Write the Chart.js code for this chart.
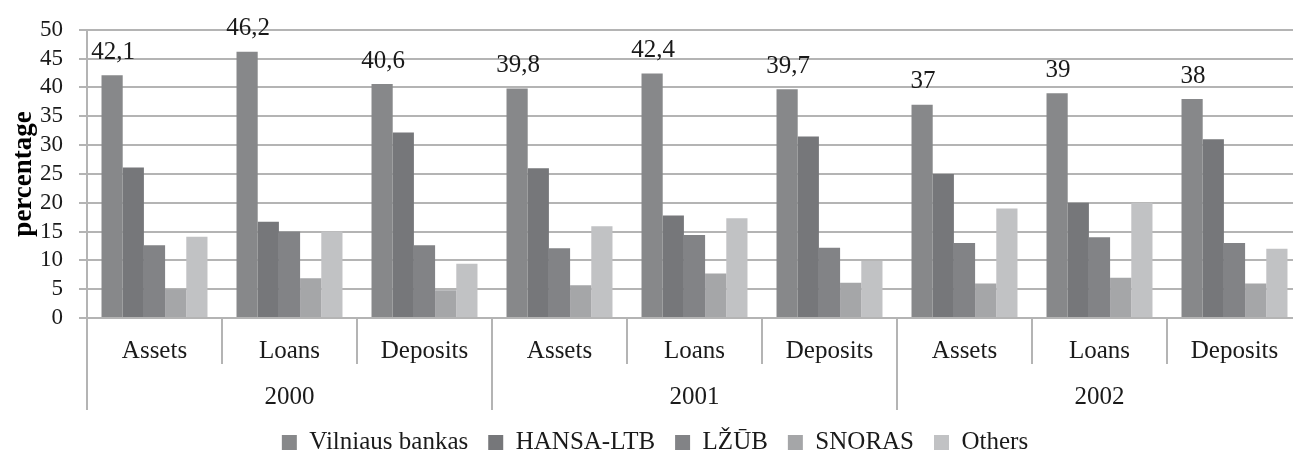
<!DOCTYPE html>
<html>
<head>
<meta charset="utf-8">
<script src="https://cdn.jsdelivr.net/npm/chart.js@4.4.1/dist/chart.umd.min.js"></script>
<style>
  html, body { margin: 0; padding: 0; background: #fff; overflow: hidden; }
  #wrap { width: 1310px; height: 455px; }
</style>
</head>
<body>
<div id="wrap"><canvas id="chart-banks"></canvas></div>
<script>
// categories (two level axis: indicator / year)
var indicators = ['Assets', 'Loans', 'Deposits', 'Assets', 'Loans', 'Deposits', 'Assets', 'Loans', 'Deposits'];
var years = ['2000', '2001', '2002'];

// market shares, %
var vilniausBankas = [42.1, 46.2, 40.6, 39.8, 42.4, 39.7, 37, 39, 38];
var hansaLtb = [26.1, 16.7, 32.2, 26, 17.8, 31.5, 25, 20, 31];
var lzub = [12.6, 15, 12.6, 12.1, 14.4, 12.2, 13, 14, 13];
var snoras = [5, 6.9, 4.8, 5.7, 7.7, 6.1, 6, 7, 6];
var others = [14.1, 15, 9.4, 15.9, 17.3, 9.9, 19, 20, 12];

var seriesNames = ['Vilniaus bankas', 'HANSA-LTB', 'LŽŪB', 'SNORAS', 'Others'];
var yTicks = [0, 5, 10, 15, 20, 25, 30, 35, 40, 45, 50];

var serif = '"Liberation Serif", "Times New Roman", serif';
var gridGrey = '#b4b4b4';

// value labels over the first series only
var topLabels = {
    id: 'topLabels',
    afterDatasetsDraw: function (chart) {
        var ctx = chart.ctx;
        var meta = chart.getDatasetMeta(0);
        ctx.save();
        ctx.font = '25px ' + serif;
        ctx.fillStyle = '#1a1a1a';
        ctx.textAlign = 'center';
        ctx.textBaseline = 'middle';
        meta.data.forEach(function (bar, i) {
            var txt = String(vilniausBankas[i]).replace('.', ',');
            ctx.fillText(txt, bar.x + 1, bar.y - 23);
        });
        ctx.restore();
    }
};

// vertical separators of the two level category axis
var separators = {
    id: 'separators',
    afterDraw: function (chart) {
        var x = chart.scales.x;
        var x2 = chart.scales.x2;
        var ctx = chart.ctx;
        var step = x.getPixelForValue(1) - x.getPixelForValue(0);
        var perYear = indicators.length / years.length;
        ctx.save();
        ctx.strokeStyle = gridGrey;
        ctx.lineWidth = 2;
        for (var i = 0; i <= indicators.length; i++) {
            var px = Math.round(x.getPixelForValue(0) - step / 2 + i * step);
            var bottom = (i % perYear === 0) ? x2.bottom : x.bottom - 1;
            ctx.beginPath();
            ctx.moveTo(px, chart.chartArea.bottom);
            ctx.lineTo(px, bottom);
            ctx.stroke();
        }
        ctx.restore();
    }
};

var ctx = document.getElementById('chart-banks').getContext('2d');
var chartBanks = new Chart(ctx, {
    type: 'bar',
    data: {
        labels: indicators,
        datasets: [
            { label: seriesNames[0], data: vilniausBankas, backgroundColor: '#87888a' },
            { label: seriesNames[1], data: hansaLtb, backgroundColor: '#76777a' },
            { label: seriesNames[2], data: lzub, backgroundColor: '#828386' },
            { label: seriesNames[3], data: snoras, backgroundColor: '#a5a6a8' },
            { label: seriesNames[4], data: others, backgroundColor: '#c1c2c4' }
        ]
    },
    options: {
        responsive: true,
        maintainAspectRatio: false,
        animation: false,
        layout: { padding: { top: 23, left: 8, right: 8, bottom: -10 } },
        datasets: {
            bar: { barPercentage: 1, categoryPercentage: 0.785, borderWidth: 0 }
        },
        scales: {
            x: {
                position: 'bottom',
                grid: { display: false },
                border: { display: true, color: gridGrey, width: 2 },
                ticks: {
                    color: '#1a1a1a', font: { family: serif, size: 25 },
                    padding: 10, maxRotation: 0, autoSkip: false
                },
                afterFit: function (scale) { scale.height = 47; }
            },
            x2: {
                type: 'category',
                labels: years,
                position: 'bottom',
                offset: true,
                grid: { display: false },
                border: { display: false },
                ticks: {
                    color: '#1a1a1a', font: { family: serif, size: 25 },
                    padding: 9, maxRotation: 0
                },
                afterFit: function (scale) { scale.height = 45; }
            },
            y: {
                min: 0,
                max: 50,
                afterBuildTicks: function (axis) {
                    axis.ticks = yTicks.map(function (v) { return { value: v }; });
                },
                afterFit: function (scale) { scale.width = 79; },
                grid: { color: gridGrey, lineWidth: 2, tickLength: 8 },
                border: { display: true, color: gridGrey, width: 2 },
                ticks: {
                    color: '#1a1a1a', font: { family: serif, size: 23 }, padding: 16,
                    autoSkip: false, stepSize: 5
                },
                title: {
                    display: true, text: 'percentage', color: '#000',
                    font: { family: serif, size: 27, weight: 'bold' }, padding: { top: 0, bottom: 0 }
                }
            }
        },
        plugins: {
            legend: {
                position: 'bottom',
                labels: {
                    color: '#1a1a1a', font: { family: serif, size: 25 },
                    boxWidth: 15, boxHeight: 15, padding: 20
                }
            },
            tooltip: { enabled: false }
        }
    },
    plugins: [topLabels, separators]
});
</script>
</body>
</html>
